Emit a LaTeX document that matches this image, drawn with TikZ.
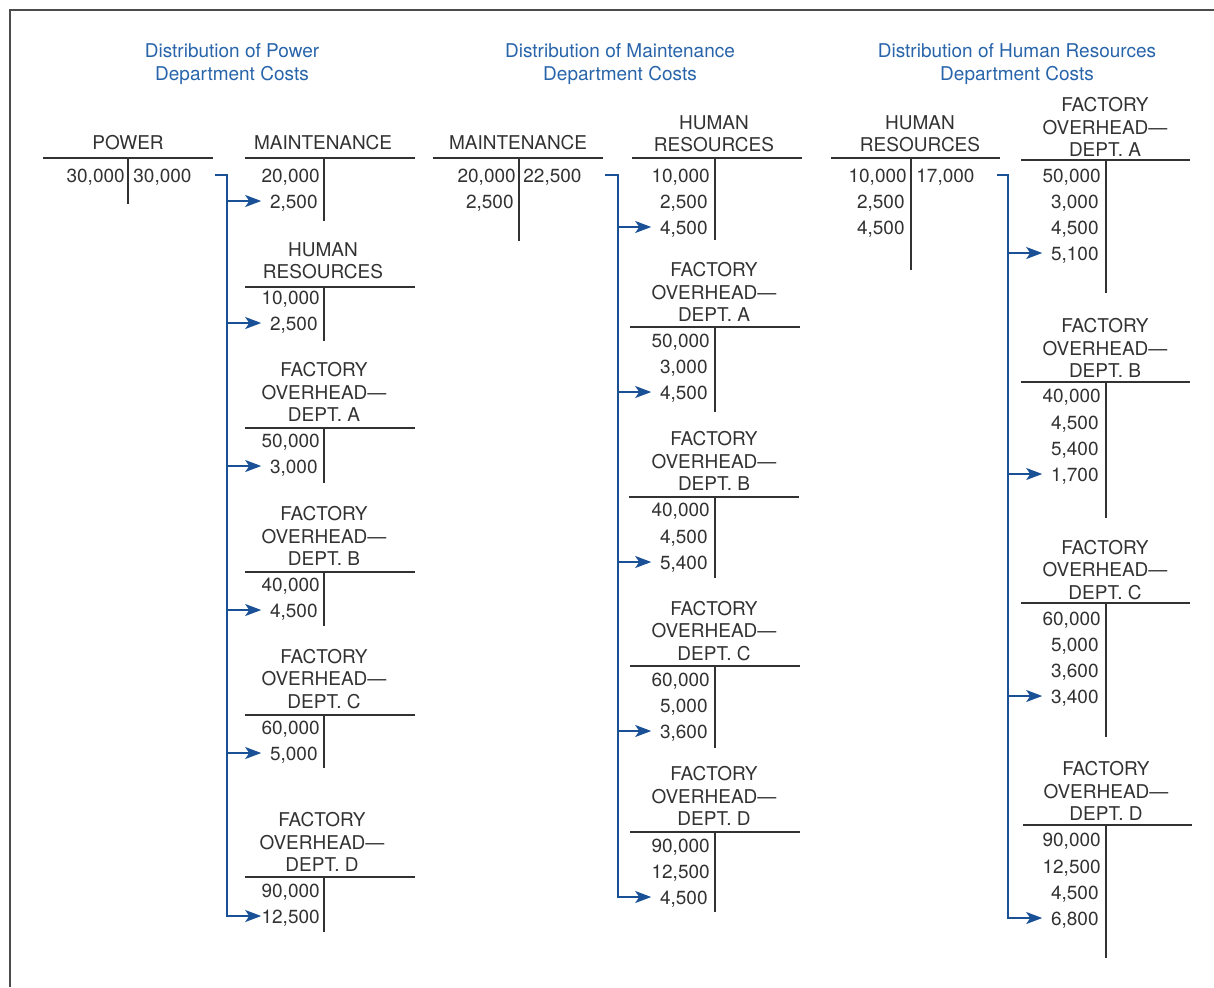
\documentclass[tikz,border=0pt]{standalone}
\usepackage{fontspec}
\setmainfont{TeX Gyre Heros}
\usetikzlibrary{arrows.meta}

\definecolor{ink}{RGB}{50,50,50}
\definecolor{titleblue}{RGB}{40,100,170}
\definecolor{flowblue}{RGB}{25,80,150}

\begin{document}
\begin{tikzpicture}[x=0.5pt, y=-0.5pt, font=\fontsize{9.5}{11.2}\selectfont, text=ink,
	head/.style ={align=center, inner sep=0pt},
	title/.style ={align=center, inner sep=0pt, text=titleblue},
	entry/.style ={anchor=east, inner sep=0pt, text width=28pt, align=right, text height=7.6pt, text depth=0pt},
	credit/.style ={anchor=west, inner sep=0pt, text height=7.6pt, text depth=0pt},
	rule/.style ={draw=ink, line width=0.7pt},
	frame/.style ={draw=black!70, line width=0.8pt},
	flow/.style ={draw=flowblue, line width=0.75pt, -{Stealth[length=8pt, width=6pt, inset=2pt]}}]
	\useasboundingbox (0,0) rectangle (1214,987);
	\draw[frame] (10,987) -- (10,10) -- (1214,10);

	% titles
	\node[title] (t-power) at (232,64) {Distribution of Power\\Department Costs};
	\node[title] (t-maint) at (620,64) {Distribution of Maintenance\\Department Costs};
	\node[title] (t-hr) at (1017,64) {Distribution of Human Resources\\Department Costs};

	% power
	\node[head] (pw) at (128,143) {POWER};
	\draw[rule] (43,158) -- (213,158) (128,158) -- (128,204);
	\node[entry] (pw-dr) at (123,175) {30,000};
	\node[credit] (pw-cr) at (133,175) {30,000};

	\node[head] (pm) at (323,143) {MAINTENANCE};
	\draw[rule] (245,158) -- (415,158) (324,158) -- (324,221);
	\foreach \y/\v [count=\i] in {175/{20,000}, 201/{2,500}}
		\node[entry] (pm\i) at (318,\y) {\v};

	\node[head] (ph) at (323,261) {HUMAN\\RESOURCES};
	\draw[rule] (245,287) -- (415,287) (324,287) -- (324,341);
	\foreach \y/\v [count=\i] in {297/{10,000}, 323/{2,500}}
		\node[entry] (ph\i) at (318,\y) {\v};

	\node[head] (pa) at (324,392) {FACTORY\\OVERHEAD—\\DEPT. A};
	\draw[rule] (245,428) -- (415,428) (324,428) -- (324,483);
	\foreach \y/\v [count=\i] in {440/{50,000}, 466/{3,000}}
		\node[entry] (pa\i) at (318,\y) {\v};

	\node[head] (pb) at (324,536) {FACTORY\\OVERHEAD—\\DEPT. B};
	\draw[rule] (245,572) -- (415,572) (324,572) -- (324,626);
	\foreach \y/\v [count=\i] in {584/{40,000}, 610/{4,500}}
		\node[entry] (pb\i) at (318,\y) {\v};

	\node[head] (pc) at (324,679) {FACTORY\\OVERHEAD—\\DEPT. C};
	\draw[rule] (245,715) -- (415,715) (324,715) -- (324,768);
	\foreach \y/\v [count=\i] in {727/{60,000}, 753/{5,000}}
		\node[entry] (pc\i) at (318,\y) {\v};

	\node[head] (pd) at (322,842) {FACTORY\\OVERHEAD—\\DEPT. D};
	\draw[rule] (245,877) -- (415,877) (324,877) -- (324,932);
	\foreach \y/\v [count=\i] in {890/{90,000}, 916/{12,500}}
		\node[entry] (pd\i) at (318,\y) {\v};

	\coordinate (p-out) at (215,175);
	\coordinate (p-bus) at (227,175);
	\draw[flow] (p-out) -- (p-bus) |- (pd2.west);
	\foreach \n in {pm2, ph2, pa2, pb2, pc2}
		\draw[flow] (p-bus |- \n.west) -- (\n.west);

	% maintenance
	\node[head] (mm) at (518,143) {MAINTENANCE};
	\draw[rule] (433,158) -- (603,158) (519,158) -- (519,241);
	\foreach \y/\v [count=\i] in {175/{20,000}, 201/{2,500}}
		\node[entry] (mm\i) at (514,\y) {\v};
	\node[credit] (mm-cr) at (523,175) {22,500};

	\node[head] (qh) at (714,134) {HUMAN\\RESOURCES};
	\draw[rule] (632,158) -- (802,158) (715,158) -- (715,240);
	\foreach \y/\v [count=\i] in {175/{10,000}, 201/{2,500}, 227/{4,500}}
		\node[entry] (qh\i) at (708,\y) {\v};

	\node[head] (qa) at (714,292) {FACTORY\\OVERHEAD—\\DEPT. A};
	\draw[rule] (630,327) -- (800,327) (715,327) -- (715,412);
	\foreach \y/\v [count=\i] in {340/{50,000}, 366/{3,000}, 392/{4,500}}
		\node[entry] (qa\i) at (708,\y) {\v};

	\node[head] (qb) at (714,461) {FACTORY\\OVERHEAD—\\DEPT. B};
	\draw[rule] (629,497) -- (799,497) (715,497) -- (715,578);
	\foreach \y/\v [count=\i] in {509/{40,000}, 536/{4,500}, 562/{5,400}}
		\node[entry] (qb\i) at (708,\y) {\v};

	\node[head] (qc) at (714,631) {FACTORY\\OVERHEAD—\\DEPT. C};
	\draw[rule] (630,666) -- (800,666) (715,666) -- (715,748);
	\foreach \y/\v [count=\i] in {679/{60,000}, 705/{5,000}, 731/{3,600}}
		\node[entry] (qc\i) at (708,\y) {\v};

	\node[head] (qd) at (714,796) {FACTORY\\OVERHEAD—\\DEPT. D};
	\draw[rule] (630,832) -- (800,832) (715,832) -- (715,912);
	\foreach \y/\v [count=\i] in {845/{90,000}, 871/{12,500}, 897/{4,500}}
		\node[entry] (qd\i) at (708,\y) {\v};

	\coordinate (m-out) at (605,175);
	\coordinate (m-bus) at (618,175);
	\draw[flow] (m-out) -- (m-bus) |- (qd3.west);
	\foreach \n in {qh3, qa3, qb3, qc3}
		\draw[flow] (m-bus |- \n.west) -- (\n.west);

	% human resources
	\node[head] (hh) at (920,134) {HUMAN\\RESOURCES};
	\draw[rule] (831,158) -- (1000,158) (911,158) -- (911,270);
	\foreach \y/\v [count=\i] in {175/{10,000}, 201/{2,500}, 227/{4,500}}
		\node[entry] (hh\i) at (905,\y) {\v};
	\node[credit] (hh-cr) at (916,175) {17,000};

	\node[head] (ra) at (1105,127) {FACTORY\\OVERHEAD—\\DEPT. A};
	\draw[rule] (1021,160) -- (1190,160) (1106,160) -- (1106,293);
	\foreach \y/\v [count=\i] in {175/{50,000}, 201/{3,000}, 227/{4,500}, 253/{5,100}}
		\node[entry] (ra\i) at (1099,\y) {\v};

	\node[head] (rb) at (1105,348) {FACTORY\\OVERHEAD—\\DEPT. B};
	\draw[rule] (1021,382) -- (1190,382) (1106,382) -- (1106,518);
	\foreach \y/\v [count=\i] in {395/{40,000}, 422/{4,500}, 448/{5,400}, 474/{1,700}}
		\node[entry] (rb\i) at (1099,\y) {\v};

	\node[head] (rc) at (1105,570) {FACTORY\\OVERHEAD—\\DEPT. C};
	\draw[rule] (1021,603) -- (1190,603) (1106,603) -- (1106,737);
	\foreach \y/\v [count=\i] in {618/{60,000}, 644/{5,000}, 670/{3,600}, 696/{3,400}}
		\node[entry] (rc\i) at (1099,\y) {\v};

	\node[head] (rd) at (1106,791) {FACTORY\\OVERHEAD—\\DEPT. D};
	\draw[rule] (1023,825) -- (1192,825) (1106,825) -- (1106,958);
	\foreach \y/\v [count=\i] in {839/{90,000}, 866/{12,500}, 892/{4,500}, 918/{6,800}}
		\node[entry] (rd\i) at (1099,\y) {\v};

	\coordinate (h-out) at (997,175);
	\coordinate (h-bus) at (1008,175);
	\draw[flow] (h-out) -- (h-bus) |- (rd4.west);
	\foreach \n in {ra4, rb4, rc4}
		\draw[flow] (h-bus |- \n.west) -- (\n.west);
\end{tikzpicture}
\end{document}
